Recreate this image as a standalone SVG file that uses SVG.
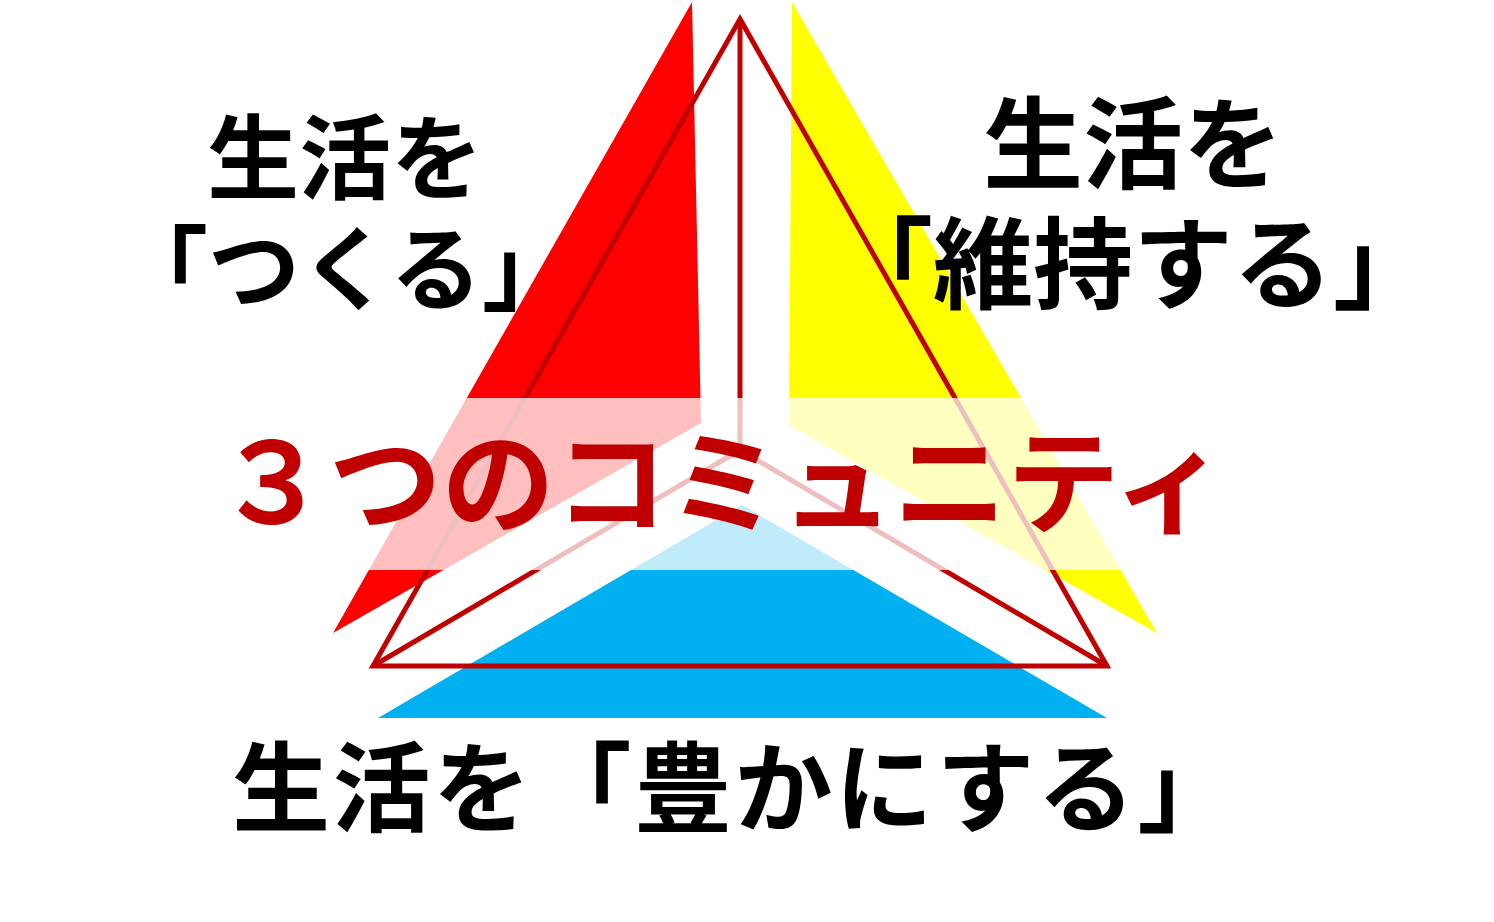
<svg xmlns="http://www.w3.org/2000/svg" width="1494" height="922" viewBox="0 0 1494 922">
  <style>
    .lbl { font-family: "Noto Sans CJK JP", "Noto Sans CJK SC", sans-serif; font-weight: bold; fill: #000000; text-anchor: middle; }
    .title { font-family: "Noto Sans CJK JP", "Noto Sans CJK SC", sans-serif; font-weight: bold; fill: #C00000; text-anchor: middle; }
    .outline { fill: none; stroke: #C00000; stroke-width: 5; stroke-linejoin: miter; }
  </style>
  <rect width="1494" height="922" fill="#FFFFFF"/>
  <g id="shapes">
    <g id="red-sail"><polygon points="692,2 701,423 333,633" fill="#FF0000"/></g>
    <g id="yellow-sail"><polygon points="792,2 1157,633 789,425" fill="#FFFF00"/></g>
    <g id="blue-base"><polygon points="742,505 1107,718 378,718" fill="#00B0F0"/></g>
  </g>
  <g id="connectors">
    <polygon class="outline" points="740,19 1107,666 373,666"/>
    <line class="outline" x1="740" y1="19" x2="740" y2="450"/>
    <line class="outline" x1="740" y1="450" x2="373" y2="666"/>
    <line class="outline" x1="740" y1="450" x2="1107" y2="666"/>
  </g>
  <rect id="band" x="0" y="398" width="1494" height="172" fill="#FFFFFF" fill-opacity="0.75"/>
  <g id="node-tsukuru">
    <text class="lbl" x="345" y="192" font-size="92">生活を</text>
    <text class="lbl" x="345" y="303" font-size="92">「つくる」</text>
  </g>
  <g id="node-iji">
    <text class="lbl" x="1133" y="181" font-size="100">生活を</text>
    <text class="lbl" x="1133" y="301" font-size="100">「維持する」</text>
  </g>
  <g id="node-yutaka">
    <text class="lbl" x="735" y="824" font-size="98" letter-spacing="2.5">生活を「豊かにする」</text>
  </g>
  <g id="node-title">
    <text class="title" x="721" y="524" font-size="113">３つのコミュニティ</text>
  </g>
</svg>
